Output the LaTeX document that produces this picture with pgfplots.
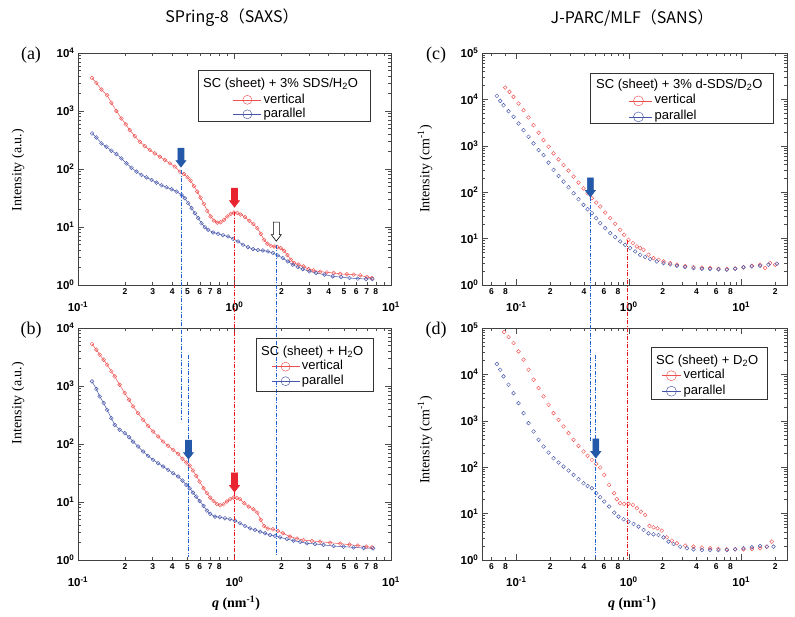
\documentclass[border=0pt]{standalone}
\usepackage{fontspec}
\setmainfont{Liberation Serif}
\newfontfamily\legfont{Liberation Sans}
\newfontfamily\jpfont{Noto Sans CJK JP}
\usepackage{pgfplots}
\pgfplotsset{compat=1.18}
\definecolor{vred}{RGB}{238,80,80}
\definecolor{pblue}{RGB}{70,85,170}
\definecolor{arrred}{RGB}{232,36,48}
\definecolor{arrblue}{RGB}{36,88,168}
\definecolor{dblue}{RGB}{30,100,215}
\definecolor{dred}{RGB}{240,20,30}
\newcommand\tten[1]{10\textsuperscript{#1}}
\newcommand\xten[1]{\rule{0pt}{23pt}10\textsuperscript{#1}}
\newcommand\blockarrow[3]{\filldraw[fill=#2, draw=#3, line width=0.6pt] (#1) -- ++(-5pt,6.5pt) -- ++(2pt,0) -- ++(0,12.5pt) -- ++(6pt,0) -- ++(0,-12.5pt) -- ++(2pt,0) -- cycle;}
\tikzset{dd/.style={line width=0.9pt, dash pattern=on 4pt off 1.5pt on 1pt off 1.5pt}}
\pgfplotsset{
  every axis/.append style={
    scale only axis, anchor=south west,
    tick align=inside, axis line style={line width=0.7pt, black!75},
    major tick length=6pt, minor tick length=3pt,
    tick style={black!70, line width=0.5pt},
    tick label style={font=\legfont\bfseries\fontsize{11.5}{13}\selectfont},
    legend cell align=left,
  },
  every extra x tick/.append style={major tick length=3pt, tick label style={font=\legfont\bfseries\fontsize{8.5}{10}\selectfont, inner sep=3pt}},
  every axis legend/.append style={draw=none, fill=none, inner sep=0pt, anchor=west, font=\legfont\fontsize{13}{14}\selectfont, nodes={inner sep=2pt, text height=8.5pt, text depth=2pt}},
  vr/.style={vred, line width=0.5pt, mark=o, mark size=1.9pt, mark options={line width=0.45pt}},
  pb/.style={pblue, line width=0.5pt, mark=o, mark size=1.9pt, mark options={line width=0.45pt}},
}
\begin{document}
\begin{tikzpicture}
\path[use as bounding box] (0,0) rectangle (795pt,-617pt);
% (a)
\begin{axis}[xmode=log, ymode=log, at={(78pt,-285pt)}, width=313pt, height=232pt, xmin=0.1, xmax=10, ymin=1, ymax=1e4,
    xtick={0.1,1,10}, xticklabels={\xten{-1},\xten{0},\xten{1}},
    extra x ticks={0.2,0.3,0.4,0.5,0.6,0.7,0.8,2,3,4,5,6,7,8},
    extra x tick labels={2,3,4,5,6,7,8,2,3,4,5,6,7,8},
    ytick={1,10,100,1000,10000}, yticklabels={\tten{0},\tten{1},\tten{2},\tten{3},\tten{4}},
    legend style={at={(axis description cs:0.495,0.767)}},
    legend image code/.code={\draw[#1, mark size=4.5pt] (0pt,0pt) -- (28pt,0pt); \draw[#1, mark size=4.5pt] plot coordinates {(14pt,0pt)};}]
\addplot[vr] coordinates {(0.1229,3715)(0.1311,3050)(0.1411,2342)(0.1533,1871)(0.1634,1391)(0.1760,1000)(0.1895,743)(0.2019,586)(0.2142,468)(0.2306,369)(0.2482,295)(0.2673,248)(0.2876,212)(0.3097,186)(0.3334,163)(0.3589,143)(0.3864,125)(0.4159,110)(0.4477,90)(0.4749,82)(0.5012,72)(0.5239,63)(0.5504,51)(0.5781,40.8)(0.6071,32.1)(0.6377,25.0)(0.6699,18.9)(0.7036,15.2)(0.7391,12.9)(0.7763,11.9)(0.8155,12.1)(0.8566,13.3)(0.8998,15.2)(0.9451,16.8)(0.9927,17.7)(1.0426,17.5)(1.095,16.4)(1.167,14.8)(1.245,12.8)(1.320,11.3)(1.400,9.55)(1.471,7.63)(1.545,6.02)(1.623,5.14)(1.705,4.75)(1.791,4.62)(1.881,4.50)(1.975,4.33)(2.075,3.89)(2.179,3.28)(2.289,2.73)(2.404,2.39)(2.563,2.24)(2.759,2.09)(2.971,1.88)(3.198,1.79)(3.527,1.70)(3.892,1.65)(4.296,1.61)(4.739,1.55)(5.228,1.53)(5.768,1.51)(6.364,1.47)(7.021,1.37)(7.556,1.32)};
\addlegendentry{vertical}
\addplot[pb] coordinates {(0.1229,410)(0.1311,350)(0.1411,276)(0.1519,242)(0.1634,207)(0.1760,181)(0.1895,152)(0.2040,125)(0.2196,105)(0.2364,90)(0.2545,78.9)(0.2740,71.9)(0.2950,64.7)(0.3176,58.2)(0.3418,52.4)(0.3680,48.4)(0.3962,44.7)(0.4265,40.8)(0.4592,35.7)(0.4822,31.3)(0.5064,25.7)(0.5317,21.1)(0.5584,17.3)(0.5863,14.2)(0.6157,11.6)(0.6465,9.93)(0.6789,8.94)(0.7304,8.04)(0.7860,7.63)(0.8456,7.24)(0.9098,6.87)(0.9789,6.26)(1.053,5.63)(1.133,4.94)(1.219,4.50)(1.312,4.16)(1.412,4.00)(1.519,3.94)(1.635,3.79)(1.759,3.55)(1.892,3.24)(2.036,2.91)(2.191,2.55)(2.358,2.24)(2.537,2.04)(2.730,1.88)(3.012,1.72)(3.323,1.61)(3.757,1.51)(4.248,1.41)(4.803,1.37)(5.430,1.32)(6.140,1.29)(6.942,1.27)(7.608,1.27)};
\addlegendentry{parallel}
\coordinate (A1) at (axis cs:0.455,96);
\coordinate (A2) at (axis cs:1,18);
\coordinate (A3) at (axis cs:1.85,4.9);
\coordinate (AT1) at (axis cs:0.455,108);
\coordinate (AT2) at (axis cs:1,22);
\coordinate (AT3) at (axis cs:1.85,5.7);
\end{axis}
% (b)
\begin{axis}[xmode=log, ymode=log, at={(78pt,-560pt)}, width=313pt, height=232pt, xmin=0.1, xmax=10, ymin=1, ymax=1e4,
    xtick={0.1,1,10}, xticklabels={\xten{-1},\xten{0},\xten{1}},
    extra x ticks={0.2,0.3,0.4,0.5,0.6,0.7,0.8,2,3,4,5,6,7,8},
    extra x tick labels={2,3,4,5,6,7,8,2,3,4,5,6,7,8},
    ytick={1,10,100,1000,10000}, yticklabels={\tten{0},\tten{1},\tten{2},\tten{3},\tten{4}},
    legend style={at={(axis description cs:0.617,0.802)}},
    legend image code/.code={\draw[#1, mark size=4.5pt] (0pt,0pt) -- (28pt,0pt); \draw[#1, mark size=4.5pt] plot coordinates {(14pt,0pt)};}]
\addplot[vr] coordinates {(0.1229,5293)(0.1311,4226)(0.1376,3464)(0.1459,2840)(0.1533,2328)(0.1634,1786)(0.1716,1464)(0.1846,1051)(0.1987,754)(0.2121,579)(0.2248,444)(0.2420,341)(0.2605,261)(0.2804,206)(0.3019,164)(0.3250,135)(0.3498,110)(0.3766,93)(0.4054,79.3)(0.4364,67.7)(0.4650,55.4)(0.4924,47.9)(0.5170,42.5)(0.5429,34.9)(0.5700,28.2)(0.5985,22.5)(0.6346,17.3)(0.6664,14.2)(0.6997,11.9)(0.7348,10.4)(0.7716,9.27)(0.8102,8.79)(0.8508,9.15)(0.8934,10.2)(0.9381,11.2)(0.9851,11.9)(1.034,11.8)(1.086,11.2)(1.157,9.51)(1.234,8.33)(1.320,7.50)(1.400,6.57)(1.471,4.91)(1.545,3.86)(1.634,3.48)(1.759,3.38)(1.892,3.17)(2.036,2.89)(2.264,2.53)(2.504,2.34)(2.759,2.21)(3.118,2.13)(3.527,2.07)(4.081,1.99)(4.739,1.91)(5.430,1.84)(6.140,1.77)(6.942,1.70)(7.556,1.65)};
\addlegendentry{vertical}
\addplot[pb] coordinates {(0.1229,1200)(0.1311,885)(0.1376,661)(0.1459,507)(0.1533,389)(0.1634,279)(0.1716,214)(0.1846,176)(0.1987,154)(0.2121,131)(0.2248,110)(0.2420,90.6)(0.2605,74.2)(0.2804,62.5)(0.3019,53.3)(0.3250,46.7)(0.3498,40.9)(0.3766,35.8)(0.4054,31.4)(0.4364,27.5)(0.4650,23.4)(0.4924,19.7)(0.5170,17.3)(0.5429,14.5)(0.5700,12.4)(0.5985,10.4)(0.6346,8.56)(0.6664,7.11)(0.6997,6.23)(0.7501,5.60)(0.8074,5.46)(0.8694,5.24)(0.9358,5.04)(1.0074,4.78)(1.0845,4.30)(1.167,3.86)(1.257,3.52)(1.353,3.30)(1.457,3.08)(1.568,2.89)(1.688,2.70)(1.817,2.60)(1.956,2.46)(2.158,2.30)(2.381,2.16)(2.627,2.05)(2.898,1.94)(3.278,1.89)(3.706,1.82)(4.296,1.74)(4.977,1.70)(5.768,1.65)(6.683,1.61)(7.670,1.59)};
\addlegendentry{parallel}
\coordinate (B1) at (axis cs:0.455,259);
\coordinate (B2) at (axis cs:1,1);
\coordinate (B3) at (axis cs:1.85,1.22);
\coordinate (B4) at (axis cs:0.508,3420);
\coordinate (B5) at (axis cs:0.508,1.13);
\coordinate (BT1) at (axis cs:0.508,55);
\coordinate (BT2) at (axis cs:1,14.9);
\end{axis}
% (c)
\begin{axis}[xmode=log, ymode=log, at={(482pt,-285pt)}, width=305pt, height=232pt, xmin=0.0495, xmax=25.5, ymin=1, ymax=1e5,
    xtick={0.1,1,10}, xticklabels={\xten{-1},\xten{0},\xten{1}},
    extra x ticks={0.06,0.08,0.2,0.4,0.6,0.8,2,4,6,8,20},
    extra x tick labels={6,8,2,4,6,8,2,4,6,8,2},
    ytick={1,10,100,1000,10000,100000}, yticklabels={\tten{0},\tten{1},\tten{2},\tten{3},\tten{4},\tten{5}},
    legend style={at={(axis description cs:0.482,0.759)}, nodes={text height=9pt, text depth=3pt}},
    legend image code/.code={\path (0pt,0pt) -- (23pt,0pt); \draw[#1, mark size=5pt] plot coordinates {(9pt,0pt)};}]
\addplot[vr, only marks] coordinates {(0.0796,17990)(0.0869,14520)(0.0943,11340)(0.1046,8150)(0.1159,5860)(0.1283,4076)(0.1422,2790)(0.1576,1909)(0.1745,1328)(0.1933,955)(0.2141,687)(0.2372,510)(0.2628,385)(0.2911,291)(0.3225,216)(0.3572,161)(0.3957,121)(0.4296,94.9)(0.4693,74.1)(0.5128,59.8)(0.5566,49.0)(0.6165,36.4)(0.6830,27.5)(0.7565,20.8)(0.8381,15.5)(0.9096,12.1)(0.9938,9.42)(1.086,7.99)(1.179,6.78)(1.262,6.24)(1.351,5.74)(1.497,4.49)(1.658,3.80)(1.837,3.50)(2.034,3.23)(2.332,2.97)(2.673,2.74)(3.170,2.56)(3.760,2.44)(4.459,2.36)(5.289,2.32)(6.270,2.24)(7.436,2.21)(8.822,2.28)(10.46,2.44)(12.41,2.60)(14.72,2.74)(16.30,2.32)(18.06,2.97)(20.0,2.74)};
\addlegendentry{vertical}
\addplot[pb, only marks] coordinates {(0.0671,11910)(0.0719,9300)(0.0769,7506)(0.0852,5578)(0.0944,4213)(0.1046,3030)(0.1159,2178)(0.1283,1566)(0.1422,1126)(0.1576,810)(0.1745,632)(0.1933,433)(0.2141,301)(0.2372,224)(0.2628,169)(0.2911,128)(0.3225,94.9)(0.3572,70.5)(0.3957,53.3)(0.4296,43.0)(0.4693,35.3)(0.5128,27.5)(0.5566,21.5)(0.6165,16.8)(0.6830,13.1)(0.7565,10.75)(0.8381,8.68)(0.9284,7.36)(1.028,6.24)(1.139,5.29)(1.262,4.49)(1.398,4.00)(1.549,3.62)(1.775,3.23)(2.034,2.97)(2.332,2.78)(2.673,2.60)(3.170,2.44)(3.760,2.32)(4.459,2.24)(5.289,2.21)(6.270,2.17)(7.436,2.14)(8.822,2.24)(10.46,2.40)(12.41,2.52)(14.72,2.60)(17.45,2.74)(20.70,2.87)};
\addlegendentry{parallel}
\coordinate (C1) at (axis cs:0.455,79);
\coordinate (C2) at (axis cs:0.98,9.3);
\coordinate (CT1) at (axis cs:0.455,79);
\end{axis}
% (d)
\begin{axis}[xmode=log, ymode=log, at={(482pt,-560pt)}, width=305pt, height=232pt, xmin=0.0495, xmax=25.5, ymin=1, ymax=1e5,
    xtick={0.1,1,10}, xticklabels={\xten{-1},\xten{0},\xten{1}},
    extra x ticks={0.06,0.08,0.2,0.4,0.6,0.8,2,4,6,8,20},
    extra x tick labels={6,8,2,4,6,8,2,4,6,8,2},
    ytick={1,10,100,1000,10000,100000}, yticklabels={\tten{0},\tten{1},\tten{2},\tten{3},\tten{4},\tten{5}},
    legend style={at={(axis description cs:0.590,0.761)}, nodes={text height=9pt, text depth=2.5pt}},
    legend image code/.code={\path (0pt,0pt) -- (19pt,0pt); \draw[#1, mark size=5pt] plot coordinates {(9pt,0pt)};}]
\addplot[vr, only marks] coordinates {(0.0780,81990)(0.0852,63950)(0.0944,47460)(0.1046,31360)(0.1159,20730)(0.1283,12610)(0.1422,7670)(0.1576,5070)(0.1745,3351)(0.1933,2215)(0.2141,1464)(0.2372,1051)(0.2628,755)(0.2911,542)(0.3225,389)(0.3572,289)(0.3957,218)(0.4296,176)(0.4693,144)(0.5128,118)(0.5566,98.4)(0.6039,68.3)(0.6687,41.6)(0.7412,27.5)(0.7826,20.4)(0.8381,16.7)(0.9096,16.2)(0.9938,16.2)(1.086,15.4)(1.179,13.0)(1.279,11.0)(1.398,9.36)(1.528,5.42)(1.658,5.07)(1.800,4.83)(1.966,4.30)(2.178,3.08)(2.413,2.61)(2.673,2.29)(3.170,2.04)(3.760,1.94)(4.459,1.85)(5.289,1.79)(6.270,1.73)(7.436,1.70)(8.822,1.70)(10.46,1.70)(12.41,1.73)(14.72,1.79)(16.87,1.94)(18.68,2.49)};
\addlegendentry{vertical}
\addplot[pb, only marks] coordinates {(0.0671,16710)(0.0719,12610)(0.0769,9055)(0.0852,5984)(0.0944,3955)(0.1046,2406)(0.1159,1464)(0.1283,890)(0.1422,589)(0.1576,389)(0.1745,279)(0.1933,207)(0.2141,156)(0.2372,126)(0.2628,103)(0.2911,84.8)(0.3225,68.3)(0.3572,55.1)(0.3957,45.2)(0.4296,39.5)(0.4693,35.2)(0.5128,27.5)(0.5566,22.5)(0.6039,18.2)(0.6687,14.2)(0.7412,10.5)(0.8097,8.62)(0.8971,7.55)(0.9938,6.72)(1.101,5.98)(1.220,5.24)(1.351,4.44)(1.497,3.76)(1.658,3.58)(1.837,3.46)(2.034,3.08)(2.254,2.49)(2.497,2.21)(2.861,1.94)(3.281,1.79)(3.760,1.70)(4.459,1.64)(5.289,1.64)(6.270,1.64)(7.436,1.64)(8.822,1.70)(10.46,1.79)(12.41,1.88)(14.72,2.00)(16.87,1.94)(19.33,1.94)};
\addlegendentry{parallel}
\coordinate (D1) at (axis cs:0.455,349);
\coordinate (D2) at (axis cs:0.98,1);
\coordinate (D3) at (axis cs:0.509,26200);
\coordinate (D4) at (axis cs:0.509,1.16);
\coordinate (DT1) at (axis cs:0.509,158);
\end{axis}
% dash-dot guide lines
\draw[dd, dblue] (A1) -- (B1);
\draw[dd, dred] (A2) -- (B2);
\draw[dd, dblue] (A3) -- (B3);
\draw[dd, dblue] (B4) -- (B5);
\draw[dd, dblue] (C1) -- (D1);
\draw[dd, dred] (C2) -- (D2);
\draw[dd, dblue] (D3) -- (D4);
% arrows
\blockarrow{AT1}{arrblue}{arrblue}
\blockarrow{AT2}{arrred}{arrred}
\blockarrow{AT3}{white}{black}
\blockarrow{BT1}{arrblue}{arrblue}
\blockarrow{BT2}{arrred}{arrred}
\blockarrow{CT1}{arrblue}{arrblue}
\blockarrow{DT1}{arrblue}{arrblue}
% legend boxes and titles
\draw[black!80, line width=0.6pt] (198pt,-70pt) rectangle (370pt,-121pt);
\node[anchor=west, inner sep=0pt, font=\legfont\fontsize{13}{14}\selectfont] at (203pt,-84pt) {SC (sheet) + 3\% SDS/H\textsubscript{2}O};
\draw[black!80, line width=0.6pt] (256pt,-338pt) rectangle (373pt,-391pt);
\node[anchor=west, inner sep=0pt, font=\legfont\fontsize{13}{14}\selectfont] at (261pt,-352pt) {SC (sheet) + H\textsubscript{2}O};
\draw[black!80, line width=0.6pt] (590pt,-73pt) rectangle (773pt,-123pt);
\node[anchor=west, inner sep=0pt, font=\legfont\fontsize{13}{14}\selectfont] at (596pt,-85pt) {SC (sheet) + 3\% d-SDS/D\textsubscript{2}O};
\draw[black!80, line width=0.6pt] (651pt,-347pt) rectangle (767pt,-399pt);
\node[anchor=west, inner sep=0pt, font=\legfont\fontsize{13}{14}\selectfont] at (656pt,-361pt) {SC (sheet) + D\textsubscript{2}O};
% titles and labels
\node[font=\jpfont\fontsize{16}{18}\selectfont] at (232pt,-18pt) {SPring-8（SAXS）};
\node[font=\jpfont\fontsize{16}{18}\selectfont] at (632pt,-18pt) {J-PARC/MLF（SANS）};
\node[font=\fontsize{18}{20}\selectfont] at (31pt,-55pt) {(a)};
\node[font=\fontsize{18}{20}\selectfont] at (31pt,-330pt) {(b)};
\node[font=\fontsize{18}{20}\selectfont] at (436pt,-55pt) {(c)};
\node[font=\fontsize{18}{20}\selectfont] at (436pt,-330pt) {(d)};
\node[rotate=90, font=\fontsize{14}{15}\selectfont] at (18pt,-170pt) {Intensity (a.u.)};
\node[rotate=90, font=\fontsize{14}{15}\selectfont] at (18pt,-403pt) {Intensity (a.u.)};
\node[rotate=90, font=\fontsize{14}{15}\selectfont] at (425pt,-169pt) {Intensity (cm\textsuperscript{-1})};
\node[rotate=90, font=\fontsize{14}{15}\selectfont] at (425pt,-440pt) {Intensity (cm\textsuperscript{-1})};
\node[font=\bfseries\fontsize{14}{15}\selectfont] at (236pt,-603pt) {\textit{q} (nm\textsuperscript{-1})};
\node[font=\bfseries\fontsize{14}{15}\selectfont] at (632pt,-603pt) {\textit{q} (nm\textsuperscript{-1})};
\end{tikzpicture}
\end{document}
